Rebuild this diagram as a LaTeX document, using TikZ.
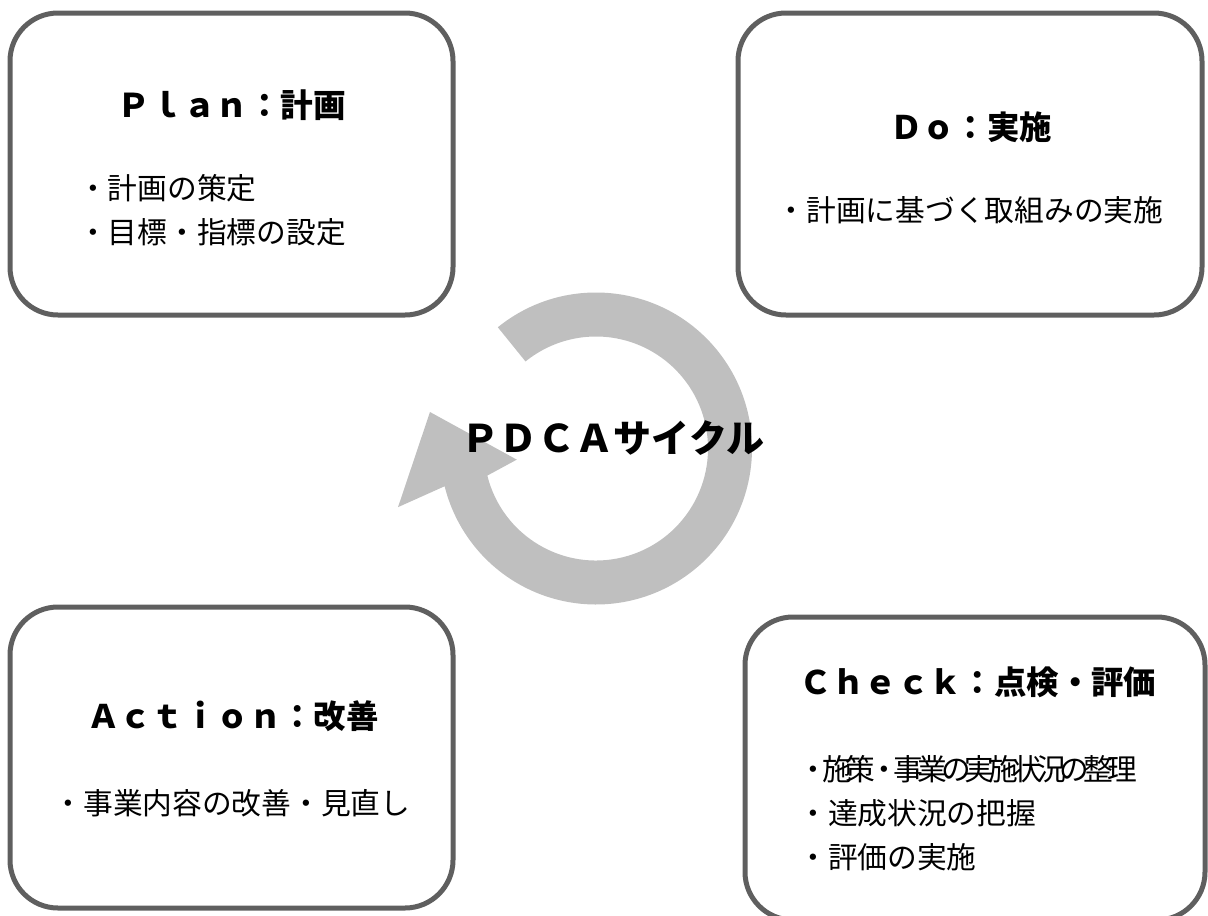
\documentclass[tikz,border=0pt]{standalone}
\usepackage{fontspec}
\usepackage{tikz}
\newfontfamily\jp{Noto Sans CJK JP}
\definecolor{wakugray}{HTML}{5F5F5F}
\definecolor{wakkagray}{HTML}{BFBFBF}

\begin{document}
\begin{tikzpicture}[x=0.75pt,y=0.75pt,
  waku/.style n args={2}{draw=wakugray,line width=3.75pt,rounded corners=36pt,minimum width=#1pt,minimum height=#2pt,inner sep=0pt},
  midashi/.style={font=\jp\bfseries\fontsize{#1}{#1}\selectfont,inner sep=0pt},
  koumoku/.style={font=\jp\fontsize{22.3}{33}\selectfont,inner sep=0pt,align=left}]
\useasboundingbox (0,0) rectangle (1208,-915);
\coordinate (wa) at (596,-448.5);
\fill[wakkagray,shift={(wa)}] (129:156) arc[start angle=129,end angle=-166,radius=156]
   -- (196.5:206.5) -- (167.6:170) -- (188:80) -- (194:112)
   arc[start angle=-166,end angle=129,radius=112] -- cycle;
\node[waku={332.25}{226.5}] (plan) at (231.5,-164) {};
\node[waku={348}{226.5}] (do) at (970,-164) {};
\node[waku={332.25}{225.75}] (action) at (231.5,-757.5) {};
\node[waku={345}{227.25}] (check) at (975,-768.5) {};
\node[midashi=24.5] (plan title) at (232,-105) {Ｐｌａｎ：計画};
\node[koumoku,anchor=west] (plan list) at (78,-210) {・計画の策定\\・目標・指標の設定};
\node[midashi=24.3] (do title) at (971,-127) {Ｄｏ：実施};
\node[koumoku] (do list) at (970,-210) {・計画に基づく取組みの実施};
\node[midashi=24.3] (action title) at (233,-716) {Ａｃｔｉｏｎ：改善};
\node[koumoku] (action list) at (232,-803) {・事業内容の改善・見直し};
\node[midashi=24.3] (check title) at (978,-682) {Ｃｈｅｃｋ：点検・評価};
\node[koumoku,anchor=west] (check list) at (798,-813.5)
   {{\addfontfeature{LetterSpace=-20}・施策・事業の実施状況の整理}\\・達成状況の把握\\・評価の実施};
\node[midashi=28.5] (pdca) at (613,-438) {ＰＤＣＡサイクル};
\end{tikzpicture}
\end{document}
